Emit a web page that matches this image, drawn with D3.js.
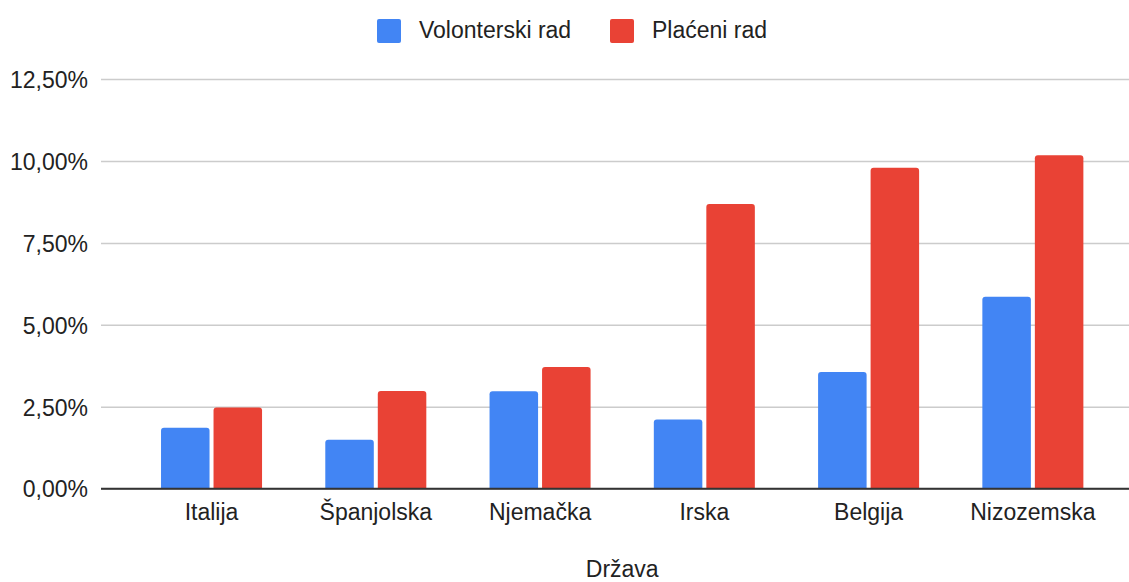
<!DOCTYPE html>
<html>
<head>
<meta charset="utf-8">
<script src="https://cdn.jsdelivr.net/npm/d3@7"></script>
<style>
  body { margin: 0; background: #fff; }
  svg { display: block; font-family: Arial, "Liberation Sans", sans-serif; }
</style>
</head>
<body>
<div id="chart"></div>
<script>
// podaci
const drzave = ['Italija', 'Španjolska', 'Njemačka', 'Irska', 'Belgija', 'Nizozemska'];
const serije = ['Volonterski rad', 'Plaćeni rad'];
const volonterski = [1.86, 1.49, 2.97, 2.11, 3.56, 5.86];
const placeni = [2.48, 2.98, 3.71, 8.69, 9.79, 10.17];
const yTicks = [0, 2.5, 5, 7.5, 10, 12.5];
const boje = ['#4285f4', '#e94235'];

const width = 1129;
const height = 582;
const textColor = '#222222';

const svg = d3.select('#chart')
  .append('svg')
  .attr('width', width)
  .attr('height', height);

const y = d3.scaleLinear().domain([0, 12.5]).range([488.7, 79]);

const x0 = d3.scaleBand()
  .domain(drzave)
  .range([129.4, 1115])
  .paddingInner(0.385)
  .paddingOuter(0.1925);

const x1 = d3.scaleBand()
  .domain(serije)
  .range([0, x0.bandwidth()])
  .paddingInner(0.076);

const color = d3.scaleOrdinal().domain(serije).range(boje);

// MREŽA
const yAxis = d3.axisLeft(y)
  .tickValues(yTicks)
  .tickSize(-(width - 101))
  .tickPadding(13)
  .tickFormat(d => d3.format('.2f')(d).replace('.', ',') + '%');

const yAxisGroup = svg.append('g')
  .attr('transform', 'translate(101,0)')
  .call(yAxis);

yAxisGroup.select('.domain').remove();
yAxisGroup.selectAll('line')
  .attr('stroke', '#cccccc')
  .attr('stroke-width', 1.5);
yAxisGroup.selectAll('text')
  .style('font-size', '23px')
  .style('fill', textColor)
  .attr('dy', '0.36em');

// STUPCI
const rows = drzave.map((d, i) => ({
  drzava: d,
  vrijednosti: [
    { serija: serije[0], v: volonterski[i] },
    { serija: serije[1], v: placeni[i] },
  ],
}));

function barPath(xp, w, yTop, yBot, r) {
  return `M${xp},${yBot} L${xp},${yTop + r} Q${xp},${yTop} ${xp + r},${yTop}` +
    ` L${xp + w - r},${yTop} Q${xp + w},${yTop} ${xp + w},${yTop + r} L${xp + w},${yBot} Z`;
}

svg.append('g')
  .selectAll('g')
  .data(rows)
  .enter()
  .append('g')
  .attr('transform', d => `translate(${x0(d.drzava)},0)`)
  .selectAll('path')
  .data(d => d.vrijednosti)
  .enter()
  .append('path')
  .attr('d', d => barPath(x1(d.serija), x1.bandwidth(), y(d.v), y(0), 3))
  .attr('fill', d => color(d.serija));

// OS X
const xAxisGroup = svg.append('g')
  .attr('transform', `translate(0,${y(0)})`)
  .call(d3.axisBottom(x0).tickSize(0).tickPadding(15));

xAxisGroup.select('.domain').remove();
xAxisGroup.selectAll('text')
  .style('font-size', '23px')
  .style('fill', textColor)
  .attr('dy', '0.71em');

svg.append('line')
  .attr('x1', 101)
  .attr('x2', width)
  .attr('y1', y(0))
  .attr('y2', y(0))
  .attr('stroke', '#333333')
  .attr('stroke-width', 2);

svg.append('text')
  .attr('x', (x0.range()[0] + x0.range()[1]) / 2)
  .attr('y', 577)
  .attr('text-anchor', 'middle')
  .style('font-size', '23px')
  .style('fill', textColor)
  .text('Država');

// LEGENDA
const legendX = [377, 610];
const legend = svg.append('g');

legend.selectAll('g')
  .data(serije)
  .enter()
  .append('g')
  .attr('transform', (_, i) => `translate(${legendX[i]},19)`)
  .each(function (s) {
    const g = d3.select(this);
    g.append('rect')
      .attr('width', 24)
      .attr('height', 24)
      .attr('rx', 2)
      .attr('fill', color(s));
    g.append('text')
      .attr('x', 42)
      .attr('y', 19)
      .style('font-size', '23px')
      .style('fill', textColor)
      .text(s);
  });
</script>
</body>
</html>
